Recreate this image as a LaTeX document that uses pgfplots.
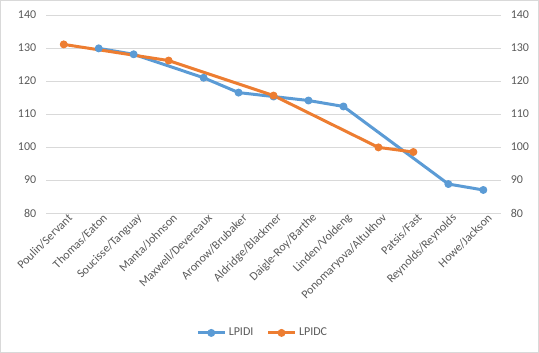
\documentclass[border=0pt]{standalone}
\usepackage{pgfplots}
\pgfplotsset{compat=1.18}
\usepackage{fontspec}
\setmainfont{Carlito}
\definecolor{cblue}{HTML}{5B9BD5}
\definecolor{corange}{HTML}{ED7D31}
\definecolor{tgray}{HTML}{595959}
\definecolor{ggray}{HTML}{D9D9D9}
\begin{document}
\begin{tikzpicture}
\pgfplotsset{base/.style={scale only axis, width=341.25pt, height=148.7pt,
  xmin=-0.5, xmax=12.5, ymin=80, ymax=140, ytick={80,90,...,140},
  font=\fontsize{9}{11}\selectfont, tick label style={text=tgray},
  /pgf/number format/assume math mode=true, major tick length=0pt,
  axis line style={draw=none}}}
\begin{axis}[base, name=ax, ymajorgrids, grid style={ggray, line width=0.75pt},
  xtick={0,...,12},
  xticklabels={Poulin/Servant,Thomas/Eaton,Soucisse/Tanguay,Manta/Johnson,Maxwell/Devereaux,Aronow/Brubaker,Aldridge/Blackmer,Daigle-Roy/Barthe,Linden/Voldeng,Ponomaryova/Altukhov,Patsis/Fast,Reynolds/Reynolds,Howe/Jackson},
  xticklabel style={rotate=45, anchor=east, inner sep=1pt, xshift=3pt, yshift=-5pt},
  yticklabel style={xshift=-4pt},
  legend columns=2,
  legend style={at={(axis description cs:0.477,-0.605)}, anchor=center, draw=none, fill=none,
    font=\fontsize{9}{11}\selectfont, text=tgray,
    /tikz/every even column/.append style={column sep=8pt}},
  legend image code/.code={\draw[mark repeat=2,mark phase=2,#1] plot coordinates {(0pt,0pt) (10pt,0pt) (20pt,0pt)};},
  ]
\addplot[cblue, line width=2.25pt, line join=round, mark=*, mark size=2.6pt, mark options={solid, fill=cblue, line width=0.75pt}]
  coordinates {(1,129.9) (2,128.1) (4,121.0) (5,116.5) (6,115.3) (7,114.1) (8,112.3) (11,88.8) (12,87.0)};
\addlegendentry{LPIDI}
\addplot[corange, line width=2.25pt, line join=round, mark=*, mark size=2.6pt, mark options={solid, fill=corange, line width=0.75pt}]
  coordinates {(0,131.1) (3,126.2) (6,115.6) (9,99.9) (10,98.5)};
\addlegendentry{LPIDC}
\end{axis}
\begin{axis}[base, axis y line*=right, axis x line=none, yticklabel style={xshift=4pt}]
\addplot[draw=none] coordinates {(0,100)};
\end{axis}
\draw[ggray, line width=0.75pt] ([xshift=-34.35pt, yshift=-104.4pt]ax.south west) rectangle ([xshift=28.3pt, yshift=10.9pt]ax.north east);
\end{tikzpicture}
\end{document}
